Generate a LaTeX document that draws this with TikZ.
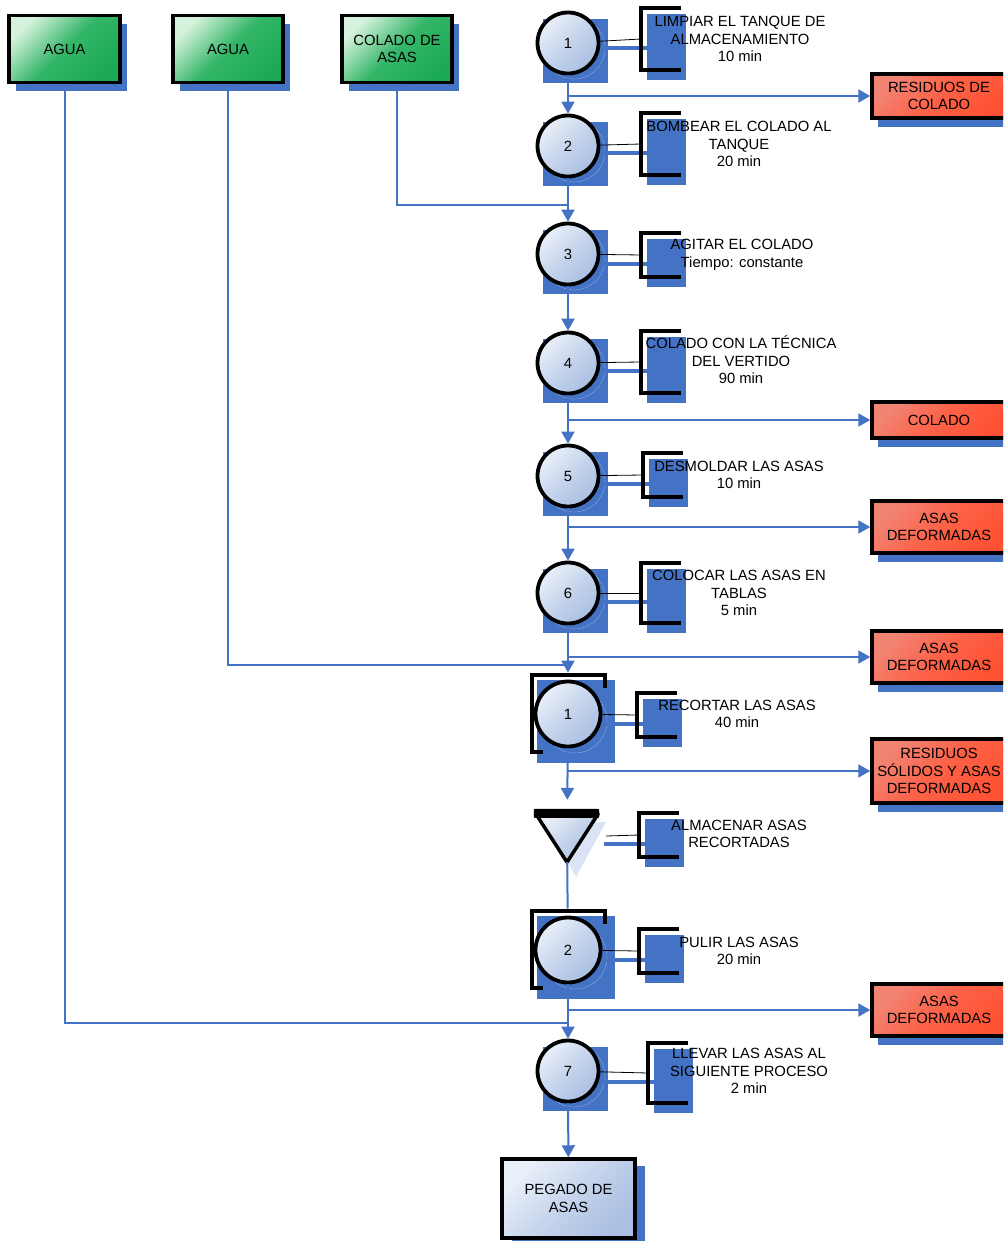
\documentclass[tikz,border=0pt]{standalone}
\usepackage{fontspec}
\setmainfont{Liberation Sans}
\usetikzlibrary{arrows.meta,calc,shadows}

\definecolor{flowblue}{RGB}{68,114,196}
\definecolor{circtop}{RGB}{234,240,249}
\definecolor{circmid}{RGB}{198,212,236}
\definecolor{circbot}{RGB}{170,191,226}
\definecolor{greenlt}{RGB}{214,242,220}
\definecolor{greenmid}{RGB}{52,182,104}
\definecolor{greendk}{RGB}{28,170,86}
\definecolor{redlt}{RGB}{242,132,116}
\definecolor{redmid}{RGB}{252,98,72}
\definecolor{reddk}{RGB}{255,82,52}
\definecolor{trishadow}{RGB}{218,228,244}

\tikzset{
  txt/.style={font=\fontsize{14.8}{17.6}\selectfont, align=center, inner sep=0pt},
  flow/.style={draw=flowblue, line width=2pt},
  arr/.style={flow, -{Triangle[width=13pt,length=12pt]}},
  opcirc/.style={circle, txt, draw=black, line width=3.8pt, minimum size=61pt,
    top color=circtop, bottom color=circbot, middle color=circmid, shading angle=45},
  rawbox/.style={txt, draw=black, line width=3.5pt, minimum width=110pt, minimum height=67pt,
    top color=greenlt, bottom color=greendk, middle color=greenmid, shading angle=45,
    general shadow={fill=flowblue, shadow xshift=7pt, shadow yshift=-9pt}},
  wastebox/.style={txt, draw=black, line width=3.5pt, minimum width=134pt,
    top color=redlt, bottom color=reddk, middle color=redmid, shading angle=45,
    general shadow={fill=flowblue, shadow xshift=6pt, shadow yshift=-9pt}},
  endbox/.style={txt, draw=black, line width=3.5pt, minimum width=133pt, minimum height=79pt,
    top color=circtop, bottom color=circbot, middle color=circmid, shading angle=45,
    general shadow={fill=flowblue, shadow xshift=10pt, shadow yshift=-7pt}},
  bracket/.style={draw=black, line width=3.5pt},
  notelink/.style={draw=black, line width=0.8pt},
  noteshadow/.style={draw=flowblue, line width=4pt},
}

\begin{document}
\begin{tikzpicture}[x=1pt, y=-1pt]
  \useasboundingbox (0,0) rectangle (1003,1241);
  \clip (0,0) rectangle (1003,1241);

  % raw materials
  \node[rawbox, minimum width=111pt] (agua1) at (64.5,49) {AGUA};
  \node[rawbox] (agua2) at (228,49) {AGUA};
  \node[rawbox] (colado) at (397,49) {COLADO DE\\ASAS};

  % operations: shadow square first, then the circle
  \foreach \n/\y/\lbl in {op1/43/1, op2/146/2, op3/254/3, op4/363/4, op5/476/5, op6/593/6, op7/1071/7}{
    \fill[flowblue] (543,\y-24) rectangle (608,\y+40);
    \draw[white!60!flowblue, very thin] (574,\y+5) circle (31);
    \node[opcirc] (\n) at (568,\y) {\lbl};
  }

  % operation + inspection
  \foreach \n/\y/\lbl in {ins1/714/1, ins2/950/2}{
    \fill[flowblue] (537,\y-34) rectangle (615,\y+49);
    \draw[white!60!flowblue, very thin] (575,\y+7) circle (32);
    \node[opcirc, minimum size=65pt] (\n) at (568,\y) {\lbl};
    \draw[bracket] (543,\y+38) -- (532,\y+38) -- (532,\y-39) -- (605,\y-39) -- (605,\y-26);
  }

  % storage
  \fill[trishadow] (545,822) -- (606,822) -- (576,877) -- cycle;
  \node[minimum width=62pt, minimum height=48pt, inner sep=0pt] (alm) at (567,838) {};
  \draw[line width=3.5pt, line join=round, top color=circtop, bottom color=circbot, middle color=circmid, shading angle=45]
    (alm.north west) -- (alm.north east) -- (alm.south) -- cycle;
  \fill[black, rounded corners=1pt] ($(alm.north west)+(-2,-5)$) rectangle ($(alm.north east)+(1,4)$);
  \coordinate (almx) at (606,836);

  % next process
  \node[endbox] (pegado) at (568.5,1198.5) {PEGADO DE\\ASAS};

  % waste
  \node[wastebox, minimum height=44pt] (res1) at (939,96) {RESIDUOS DE\\COLADO};
  \node[wastebox, minimum height=36pt] (res2) at (939,420) {COLADO};
  \node[wastebox, minimum height=52pt] (res3) at (939,527) {ASAS\\DEFORMADAS};
  \node[wastebox, minimum height=52pt] (res4) at (939,657) {ASAS\\DEFORMADAS};
  \node[wastebox, minimum height=64pt] (res5) at (939,771) {RESIDUOS\\SÓLIDOS Y ASAS\\DEFORMADAS};
  \node[wastebox, minimum height=52pt] (res6) at (939,1010) {ASAS\\DEFORMADAS};

  % notes: blue block, shadow link, bracket
  \foreach \b/\bx/\by/\h in {b1/641/39/31, b2/641/144/31, b3/641/255/22, b4/641/362/31, b5/643/475/22,
      b6/641/593/30, b7/637/715/22, b8/639/835/22, b9/639/951/22, b10/648/1073/30}{
    \fill[flowblue] (\bx+6,\by-\h+6) rectangle (\bx+45,\by+\h+10);
    \draw[noteshadow] (604,\by+9) -- (\bx+6,\by+9);
    \draw[bracket] (\bx+40,\by-\h) -- (\bx,\by-\h) -- (\bx,\by+\h) -- (\bx+40,\by+\h);
    \coordinate (\b) at (\bx,\by);
  }

  \node[txt] (n1) at (740,39) {LIMPIAR EL TANQUE DE\\ALMACENAMIENTO\\10 min};
  \node[txt] (n2) at (739,144) {BOMBEAR EL COLADO AL\\TANQUE\\20 min};
  \node[txt] (n3) at (742,255) {AGITAR EL COLADO\\Tiempo: constante};
  \node[txt] (n4) at (741,360) {COLADO CON LA TÉCNICA\\DEL VERTIDO\\90 min};
  \node[txt] (n5) at (739,475) {DESMOLDAR LAS ASAS\\10 min};
  \node[txt] (n6) at (739,593) {COLOCAR LAS ASAS EN\\TABLAS\\5 min};
  \node[txt] (n7) at (737,714) {RECORTAR LAS ASAS\\40 min};
  \node[txt] (n8) at (739,834) {ALMACENAR ASAS\\RECORTADAS};
  \node[txt] (n9) at (739,951) {PULIR LAS ASAS\\20 min};
  \node[txt] (n10) at (749,1071) {LLEVAR LAS ASAS AL\\SIGUIENTE PROCESO\\2 min};

  \foreach \s/\b in {op1/b1, op2/b2, op3/b3, op4/b4, op5/b5, op6/b6, ins1/b7, almx/b8, ins2/b9, op7/b10}
    \draw[notelink] (\s) -- (\b);

  % junctions on the main line
  \coordinate (j1) at (568,96);
  \coordinate (j2) at (568,205);
  \coordinate (j4) at (568,420);
  \coordinate (j5) at (568,527);
  \coordinate (j6) at (568,657);
  \coordinate (j6a) at (568,665);
  \coordinate (j7) at (568,771);
  \coordinate (j9) at (568,1010);
  \coordinate (j9a) at (568,1023);

  % main flow
  \draw[arr] (op1) -- (op2);
  \draw[arr] (op2) -- (op3);
  \draw[arr] (op3) -- (op4);
  \draw[arr] (op4) -- (op5);
  \draw[arr] (op5) -- (op6);
  \draw[arr, shorten >=7pt] (op6) -- (ins1);
  \draw[arr, shorten >=14pt] (ins1) -- (alm);
  \draw[flow, shorten >=7pt] (alm) -- (ins2);
  \draw[arr] (ins2) -- (op7);
  \draw[arr] (op7) -- (pegado);

  % inputs
  \draw[flow] (colado) |- (j2);
  \draw[flow] (agua2) |- (j6a);
  \draw[flow] (agua1) |- (j9a);

  % waste outputs
  \draw[arr] (j1) -- (res1.west);
  \draw[arr] (j4) -- (res2.west);
  \draw[arr] (j5) -- (res3.west);
  \draw[arr] (j6) -- (res4.west);
  \draw[arr] (j7) -- (res5.west);
  \draw[arr] (j9) -- (res6.west);

\end{tikzpicture}
\end{document}
